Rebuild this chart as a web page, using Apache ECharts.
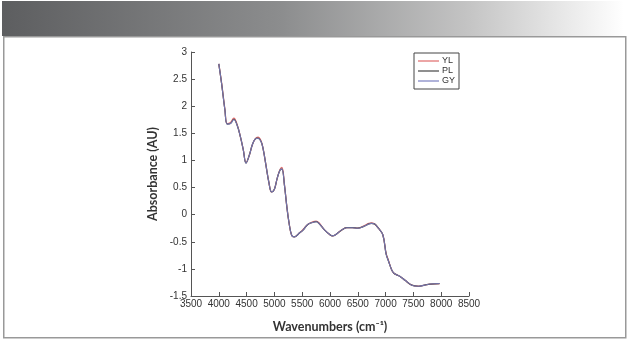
<!DOCTYPE html>
<html>
<head>
<meta charset="utf-8">
<script src="https://cdn.jsdelivr.net/npm/echarts@6/dist/echarts.min.js"></script>
<style>
html,body{margin:0;padding:0;background:#fff;}
#c{width:632px;height:346px;}
</style>
</head>
<body>
<div id="c"></div>
<script>
// Wavenumbers (cm-1)
var wavenumbers = [4000,4050,4110,4150,4210,4270,4330,4390,4440,4490,4550,4600,4650,4705,4760,4800,4850,4900,4950,5000,5050,5100,5135,5180,5220,5260,5310,5355,5460,5520,5600,5700,5750,5800,5900,6000,6040,6100,6200,6300,6400,6500,6600,6700,6740,6800,6870,6950,7010,7050,7110,7150,7200,7260,7350,7470,7590,7700,7800,7970];
var absYL = [2.78,2.43,1.94,1.68,1.70,1.78,1.66,1.43,1.20,0.96,1.10,1.28,1.39,1.43,1.36,1.20,0.90,0.60,0.42,0.47,0.67,0.83,0.87,0.56,0.18,-0.13,-0.38,-0.41,-0.33,-0.27,-0.18,-0.13,-0.12,-0.15,-0.28,-0.37,-0.39,-0.37,-0.29,-0.24,-0.24,-0.25,-0.21,-0.16,-0.15,-0.17,-0.25,-0.37,-0.72,-0.84,-1.02,-1.08,-1.11,-1.14,-1.21,-1.30,-1.32,-1.30,-1.28,-1.27];
var absPL = [2.78,2.42,1.93,1.67,1.68,1.76,1.65,1.43,1.20,0.95,1.10,1.28,1.39,1.41,1.35,1.20,0.90,0.60,0.42,0.47,0.67,0.82,0.84,0.55,0.18,-0.13,-0.38,-0.41,-0.33,-0.28,-0.18,-0.14,-0.13,-0.16,-0.28,-0.37,-0.39,-0.37,-0.29,-0.24,-0.24,-0.25,-0.22,-0.17,-0.16,-0.17,-0.25,-0.37,-0.73,-0.85,-1.02,-1.08,-1.11,-1.14,-1.21,-1.30,-1.32,-1.30,-1.28,-1.27];
var absGY = [2.78,2.42,1.93,1.67,1.68,1.75,1.65,1.43,1.20,0.95,1.10,1.28,1.39,1.41,1.35,1.20,0.90,0.60,0.42,0.47,0.67,0.82,0.84,0.55,0.18,-0.13,-0.38,-0.41,-0.33,-0.28,-0.18,-0.14,-0.13,-0.16,-0.28,-0.37,-0.39,-0.37,-0.29,-0.24,-0.24,-0.25,-0.22,-0.17,-0.16,-0.17,-0.25,-0.37,-0.73,-0.85,-1.02,-1.08,-1.11,-1.14,-1.21,-1.30,-1.32,-1.30,-1.28,-1.27];
var seriesNames = ['YL','PL','GY'];
var xTicks = [3500,4000,4500,5000,5500,6000,6500,7000,7500,8000,8500];
var yTicks = [-1.5,-1,-0.5,0,0.5,1,1.5,2,2.5,3];

function pairs(xs, ys){ return xs.map(function(x,i){ return [x, ys[i]]; }); }

var chart = echarts.init(document.getElementById('c'), null, {renderer:'canvas'});
var axisColor = '#555';
var tickFont = {color:'#333', fontSize:10, fontFamily:'Liberation Sans, Arial, sans-serif'};
chart.setOption({
  animation:false,
  backgroundColor:'#fff',
  graphic:[
    {type:'rect', left:2, top:1, shape:{width:622, height:35}, z:-1,
     style:{fill:new echarts.graphic.LinearGradient(0,0,1,0,[
       {offset:0,color:'#5d5e60'},{offset:0.45,color:'#8c8d8e'},{offset:0.75,color:'#c4c4c4'},{offset:1,color:'#ffffff'}])}},
    {type:'rect', left:3, top:36, shape:{width:622, height:301}, z:-1,
     style:{fill:'#fff', stroke:'#999', lineWidth:1.5}}
  ],
  grid:{left:191, right:163, top:52, bottom:50},
  legend:{
    left:414, top:53, orient:'vertical', icon:'rect',
    padding:[3,4,3,4], itemGap:0, itemWidth:21, itemHeight:1.2,
    borderColor:'#444', borderWidth:1,
    textStyle:{color:'#333', fontSize:9, lineHeight:10, fontFamily:'Liberation Sans, Arial, sans-serif', padding:[0,0,0,-2]},
    data:seriesNames
  },
  xAxis:{
    type:'value', min:3500, max:8500, interval:500,
    name:'Wavenumbers (cm\u207B\u00B9)', nameLocation:'middle', nameGap:24,
    nameTextStyle:{color:'#333', fontSize:12.5, fontWeight:'bold', fontFamily:'Lato, Noto Sans, sans-serif'},
    axisLine:{onZero:false, lineStyle:{color:axisColor, width:1}},
    axisTick:{inside:true, length:4, lineStyle:{color:axisColor}},
    axisLabel:Object.assign({margin:3, formatter:function(v){return xTicks.indexOf(v)>=0 ? String(v) : '';}}, tickFont),
    splitLine:{show:false}
  },
  yAxis:{
    type:'value', min:-1.5, max:3, interval:0.5,
    name:'Absorbance (AU)', nameLocation:'middle', nameGap:32, nameRotate:90,
    nameTextStyle:{color:'#333', fontSize:12.5, fontWeight:'bold', fontFamily:'Lato, Noto Sans, sans-serif'},
    axisLine:{show:true, onZero:false, lineStyle:{color:axisColor, width:1}},
    axisTick:{show:true, inside:true, length:4, lineStyle:{color:axisColor}},
    axisLabel:Object.assign({margin:4, formatter:function(v){return yTicks.indexOf(v)>=0 ? String(v) : '';}}, tickFont),
    splitLine:{show:false}
  },
  series:[
    {name:'YL', type:'line', smooth:0.4, symbol:'none', data:pairs(wavenumbers, absYL),
     lineStyle:{color:'#e06a6a', width:1.3}, itemStyle:{color:'#e06a6a'}},
    {name:'PL', type:'line', smooth:0.4, symbol:'none', data:pairs(wavenumbers, absPL),
     lineStyle:{color:'#444444', width:1.2}, itemStyle:{color:'#444444'}},
    {name:'GY', type:'line', smooth:0.4, symbol:'none', data:pairs(wavenumbers, absGY),
     lineStyle:{color:'#7a7fc0', width:1.1, opacity:0.85}, itemStyle:{color:'#7a7fc0'}}
  ]
});
</script>
</body>
</html>
